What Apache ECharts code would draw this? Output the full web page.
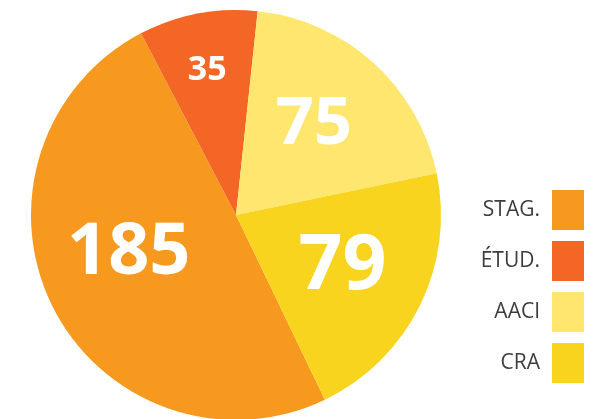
<!DOCTYPE html>
<html>
<head>
<meta charset="utf-8">
<script src="https://cdn.jsdelivr.net/npm/echarts@6/dist/echarts.min.js"></script>
<style>
html,body{margin:0;padding:0;background:#fff;}
#c{width:598px;height:419px;}
</style>
</head>
<body>
<div id="c"></div>
<script>
var categories = ['STAG.', 'ÉTUD.', 'AACI', 'CRA'];
var values = [185, 35, 75, 79];
var colors = ['#F7991F', '#F36626', '#FFE66F', '#F8D41F'];

var labelStyles = [
  {fontSize: 72, offset: [-13, -9]},
  {fontSize: 34, offset: [-9, -41]},
  {fontSize: 67, offset: [7, -12]},
  {fontSize: 77, offset: [12, 5]}
];

var data = categories.map(function (name, i) {
  return {
    name: name,
    value: values[i],
    itemStyle: {color: colors[i]},
    label: {fontSize: labelStyles[i].fontSize, offset: labelStyles[i].offset}
  };
});

var chart = echarts.init(document.getElementById('c'), null, {renderer: 'canvas'});
chart.setOption({
  animation: false,
  legend: {
    orient: 'vertical',
    right: 14,
    top: 190,
    padding: 0,
    align: 'right',
    itemWidth: 32,
    itemHeight: 40,
    itemGap: 11,
    icon: 'rect',
    selectedMode: false,
    data: categories,
    textStyle: {
      fontFamily: 'Open Sans',
      fontSize: 21,
      color: '#3d3d3d',
      padding: [0, 7, 0, 0]
    }
  },
  series: [{
    type: 'pie',
    center: [236, 215],
    radius: [0, 205],
    startAngle: 90 - 154.3,
    clockwise: true,
    silent: true,
    label: {
      show: true,
      position: 'inside',
      formatter: '{c}',
      color: '#ffffff',
      fontFamily: 'Open Sans',
      fontWeight: 'bold',
      letterSpacing: 2
    },
    labelLine: {show: false},
    itemStyle: {borderWidth: 0},
    emphasis: {disabled: true},
    data: data
  }]
});
</script>
</body>
</html>
